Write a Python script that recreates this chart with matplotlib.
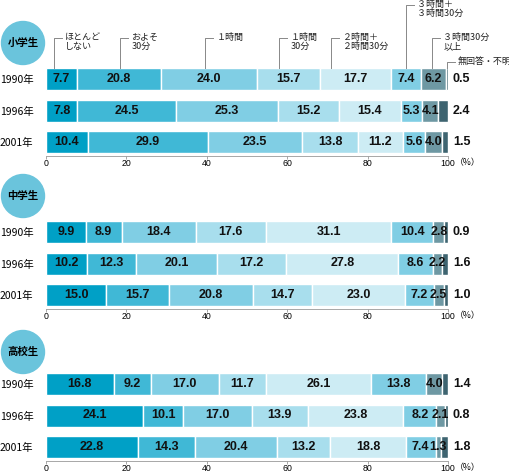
import matplotlib.pyplot as plt
from matplotlib.patches import Circle
from matplotlib.transforms import IdentityTransform

plt.rcParams['font.family'] = ['Noto Sans CJK JP', 'DejaVu Sans']

years = ['1990年', '1996年', '2001年']
groups = ['小学生', '中学生', '高校生']

elementary = [
    [7.7, 20.8, 24.0, 15.7, 17.7, 7.4, 6.2, 0.5],
    [7.8, 24.5, 25.3, 15.2, 15.4, 5.3, 4.1, 2.4],
    [10.4, 29.9, 23.5, 13.8, 11.2, 5.6, 4.0, 1.5],
]
junior = [
    [9.9, 8.9, 18.4, 17.6, 31.1, 10.4, 2.8, 0.9],
    [10.2, 12.3, 20.1, 17.2, 27.8, 8.6, 2.2, 1.6],
    [15.0, 15.7, 20.8, 14.7, 23.0, 7.2, 2.5, 1.0],
]
high = [
    [16.8, 9.2, 17.0, 11.7, 26.1, 13.8, 4.0, 1.4],
    [24.1, 10.1, 17.0, 13.9, 23.8, 8.2, 2.1, 0.8],
    [22.8, 14.3, 20.4, 13.2, 18.8, 7.4, 1.3, 1.8],
]

categories = ['ほとんど\nしない', 'およそ\n30分', '１時間', '１時間\n30分',
              '２時間＋\n２時間30分', '３時間＋\n３時間30分', '３時間30分\n以上', '無回答・不明']
colors = ['#00a0c6', '#40b8d6', '#80cee4', '#a8deed', '#cdecf4',
          '#80cee4', '#6e98a3', '#3e6470']

# leader positions (x in %, label line in px)
leader_x = [2.0, 18.4, 39.6, 58.0, 71.0, 89.6, 96.0, 99.7]
leader_top = [38, 38, 38, 38, 38, 5, 38, 62]

W, H = 510, 474
fig = plt.figure(figsize=(W / 100, H / 100), dpi=100)

# (name, data, first row centre px, circle centre px)
panels = [(groups[0], elementary, 79, 43),
          (groups[1], junior, 232, 196),
          (groups[2], high, 384, 352)]

row_px = 31.5
axes = []
for name, data, r0, cy in panels:
    top = r0 - 16
    bottom = r0 + 2 * row_px + 13.5
    ax = fig.add_axes([46 / W, 1 - bottom / H, 402 / W, (bottom - top) / H])
    axes.append(ax)
    for i, row in enumerate(data):
        left = 0
        for j, v in enumerate(row):
            ax.barh(i, v, left=left, height=22 / row_px, color=colors[j],
                    edgecolor='white', linewidth=1)
            if j < len(row) - 1:
                ax.text(left + v / 2, i, f'{v:.1f}', ha='center', va='center',
                        fontsize=9, fontweight='bold', family='Liberation Sans',
                        color='#111111')
            else:
                ax.text(101.2, i, f'{v:.1f}', ha='left', va='center',
                        fontsize=9, fontweight='bold', family='Liberation Sans',
                        color='#111111')
            left += v
    ax.set_xlim(0, 100)
    ax.set_ylim(2 + 13.5 / row_px, -16 / row_px)
    ax.set_yticks(range(3))
    ax.set_yticklabels(years, fontsize=7.5)
    ax.tick_params(axis='y', length=0, pad=9)
    ax.set_xticks([0, 20, 40, 60, 80, 100])
    ax.tick_params(axis='x', length=2.5, width=0.6, color='#999999', pad=0,
                   labelsize=6.3)
    for lab in ax.get_xticklabels():
        lab.set_family('Liberation Sans')
    for s in ['top', 'left', 'right']:
        ax.spines[s].set_visible(False)
    ax.spines['bottom'].set_color('#999999')
    ax.spines['bottom'].set_linewidth(0.6)
    ax.annotate('（%）', xy=(100, 0), xycoords=('data', 'axes fraction'),
                xytext=(5, -1.8), textcoords='offset points', fontsize=6.3,
                ha='left', va='top')

    fig.add_artist(Circle((23, H - cy), 21.5, color='#6ac4dc',
                          transform=IdentityTransform()))
    fig.text(23 / W, 1 - cy / H, name, ha='center', va='center',
             fontsize=7.5, fontweight='bold')

# leaders on the first panel
ax = axes[0]
bar_top = -11 / row_px
for lab, x, ty in zip(categories, leader_x, leader_top):
    y = (ty - 79) / row_px
    ax.plot([x, x, x + 2.0], [bar_top, y, y], color='#888888', lw=0.7,
            clip_on=False)
    ax.text(x + 2.8, y - 5.5 / row_px, lab, ha='left', va='top', fontsize=6.5,
            linespacing=1.05, color='#222222')

fig.savefig('out.png', dpi=100)
